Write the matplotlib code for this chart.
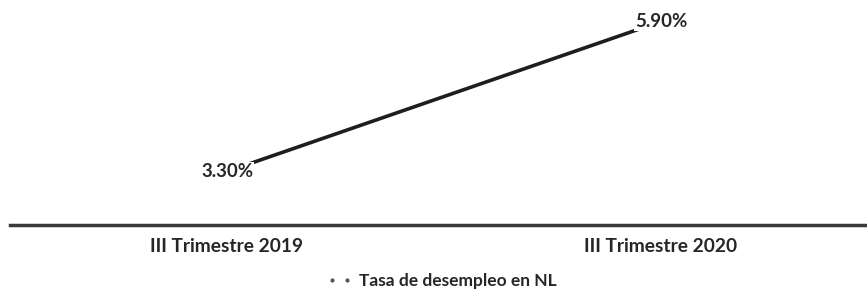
import matplotlib
matplotlib.use("Agg")
import matplotlib.pyplot as plt
from matplotlib.lines import Line2D

categories = ["III Trimestre 2019", "III Trimestre 2020"]
values = [3.30, 5.90]
value_labels = ["3.30%", "5.90%"]
series_name = "Tasa de desempleo en NL"

plt.rcParams['font.family'] = ['Lato', 'DejaVu Sans']
TXT = "#262626"

W, H = 867, 293
fig = plt.figure(figsize=(W / 100, H / 100), dpi=100)
ax = fig.add_axes([10 / W, 1 - 225 / H, 868 / W, 225 / H])
x = list(range(len(categories)))
ax.plot(x, values, color="#1e1e1e", linewidth=2.6, solid_capstyle="butt", zorder=2)
ax.set_xlim(-0.5, 1.5)
ax.set_ylim(2.373, 6.273)

for xi, yi, lab in zip(x, values, value_labels):
    ax.text(xi, yi, lab, ha="center", va="center", fontsize=13.5, fontweight="bold",
            color=TXT, zorder=3,
            bbox=dict(boxstyle="square,pad=0.05", facecolor="white", edgecolor="none"))

for s in ["top", "right", "left"]:
    ax.spines[s].set_visible(False)
ax.spines["bottom"].set_color("#3a3a3a")
ax.spines["bottom"].set_linewidth(2.5)
ax.set_yticks([])
ax.set_xticks(x)
ax.set_xticklabels(categories, fontsize=13.8, fontweight="bold", color=TXT)
ax.tick_params(axis="x", length=0, pad=9)

handle = Line2D([0], [0], linestyle="none", marker="o", markersize=3,
                color="#555555", markeredgewidth=0)
fig.legend([handle], [series_name], loc="center", bbox_to_anchor=(442 / W, 1 - 281 / H),
           frameon=False, prop={"weight": "bold", "size": 12.5}, labelcolor=TXT,
           numpoints=2, handlelength=1.45, handletextpad=0.39)

fig.savefig("out.png", dpi=100)
